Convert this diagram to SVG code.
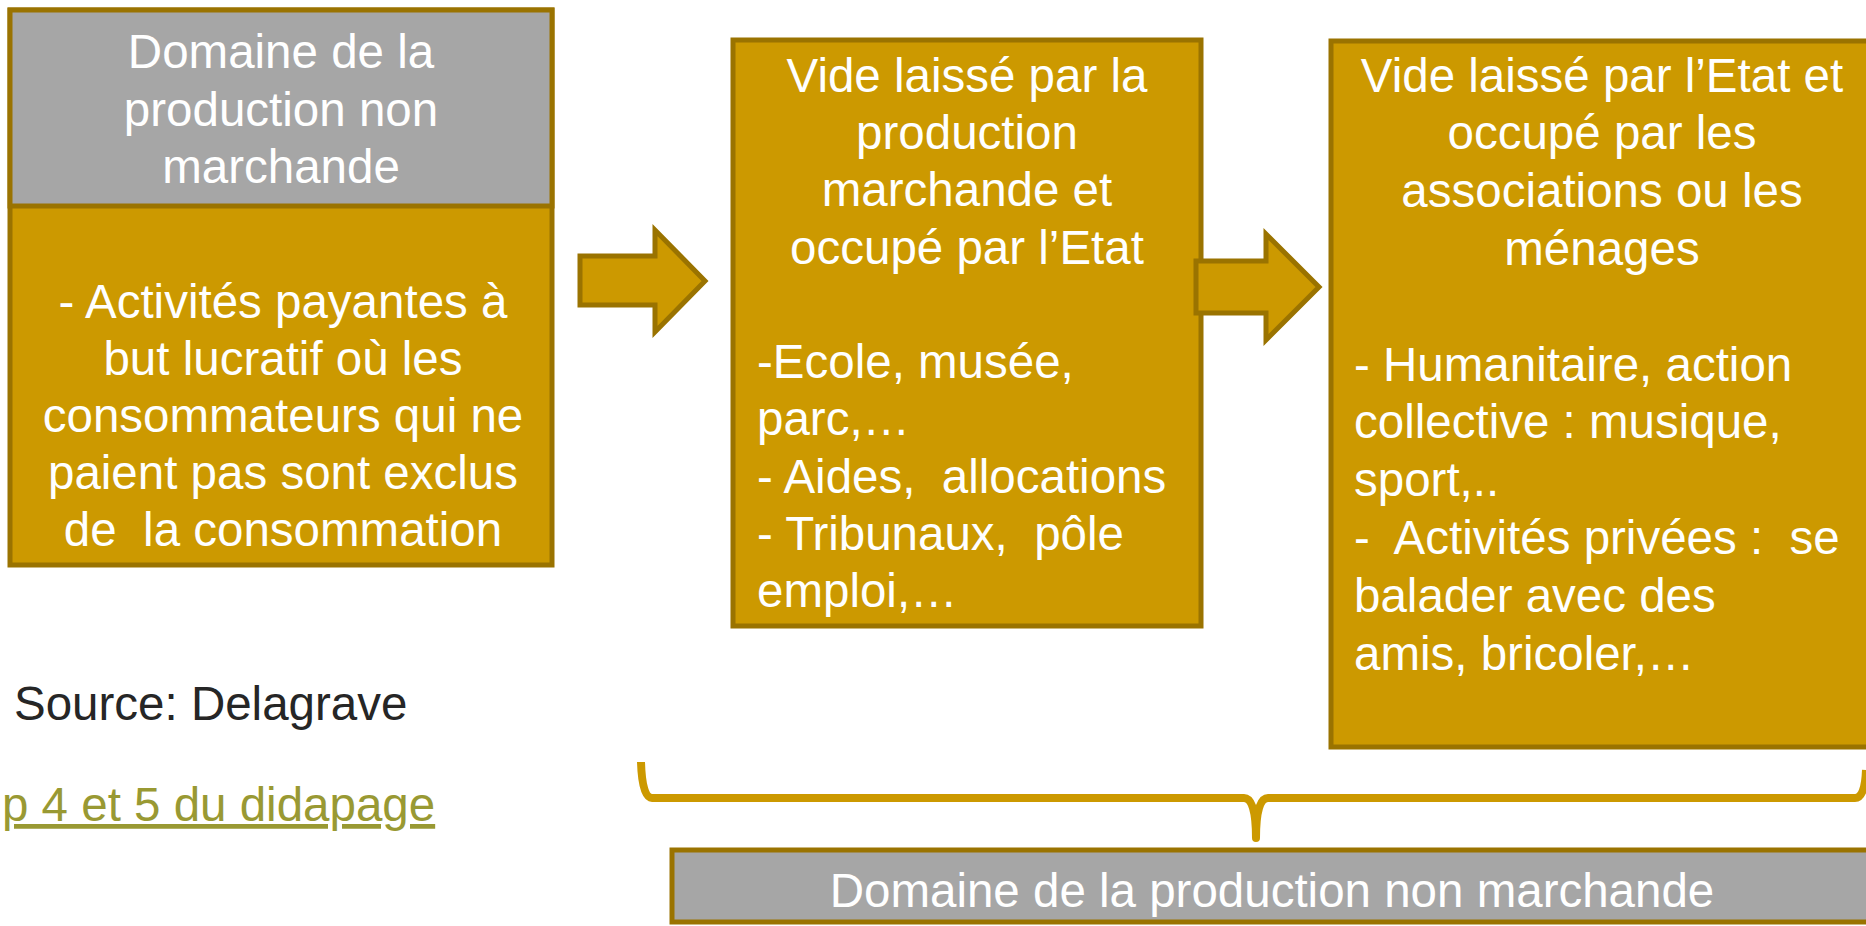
<svg xmlns="http://www.w3.org/2000/svg" width="1866" height="926" viewBox="0 0 1866 926">
<style>
.gold{fill:#cc9900;stroke:#9a7300;stroke-width:5}
.gray{fill:#a6a6a6;stroke:#9a7300;stroke-width:5}
text{font-family:"Liberation Sans",Arial,sans-serif;font-size:47.5px;white-space:pre}
.w{fill:#ffffff}
.c{text-anchor:middle}
</style>
<rect width="1866" height="926" fill="#ffffff"/>
<g id="box1">
<rect class="gold" x="10" y="10" width="542" height="555"/>
<rect class="gray" x="10" y="10" width="542" height="196"/>
<text class="w c" x="281"><tspan x="281" y="68">Domaine de la</tspan><tspan x="281" y="125.5">production non</tspan><tspan x="281" y="183">marchande</tspan></text>
<text class="w c" x="283" xml:space="preserve"><tspan x="283" y="318">- Activités payantes à</tspan><tspan x="283" y="375">but lucratif où les</tspan><tspan x="283" y="432">consommateurs qui ne</tspan><tspan x="283" y="489">paient pas sont exclus</tspan><tspan x="283" y="546">de  la consommation</tspan></text>
</g>
<g id="box2">
<rect class="gold" x="733" y="40" width="468" height="586"/>
<text class="w c"><tspan x="967" y="91.6">Vide laissé par la</tspan><tspan x="967" y="149">production</tspan><tspan x="967" y="206.4">marchande et</tspan><tspan x="967" y="263.6">occupé par l’Etat</tspan></text>
<text class="w" xml:space="preserve"><tspan x="757" y="378">-Ecole, musée,</tspan><tspan x="757" y="435.3">parc,…</tspan><tspan x="757" y="492.6">- Aides,  allocations</tspan><tspan x="757" y="549.9">- Tribunaux,  pôle</tspan><tspan x="757" y="607.2">emploi,…</tspan></text>
</g>
<g id="box3">
<rect class="gold" x="1331" y="41" width="542" height="706"/>
<text class="w c"><tspan x="1602" y="91.6">Vide laissé par l’Etat et</tspan><tspan x="1602" y="149.4">occupé par les</tspan><tspan x="1602" y="207.2">associations ou les</tspan><tspan x="1602" y="265">ménages</tspan></text>
<text class="w" xml:space="preserve"><tspan x="1354" y="380.6">- Humanitaire, action</tspan><tspan x="1354" y="438.4">collective : musique,</tspan><tspan x="1354" y="496.2">sport,..</tspan><tspan x="1354" y="554">-  Activités privées :  se</tspan><tspan x="1354" y="611.8">balader avec des</tspan><tspan x="1354" y="669.6">amis, bricoler,…</tspan></text>
</g>
<g id="box4">
<rect class="gray" x="672" y="850" width="1200" height="72"/>
<text class="w c" x="1272" y="907">Domaine de la production non marchande</text>
</g>
<g id="connectors">
<path class="gold" d="M580,256 L655,256 L655,230 L705,281 L655,332 L655,305 L580,305 Z"/>
<path class="gold" d="M1196,261 L1266,261 L1266,234 L1319,287 L1266,340 L1266,313 L1196,313 Z"/>
<path d="M641,762 Q642,798 652,798 L1244,798 Q1256,798 1256,838 Q1256,798 1268,798 L1855,798 Q1865,798 1866,770" fill="none" stroke="#cc9900" stroke-width="8" stroke-linejoin="round"/>
</g>
<g id="notes">
<text x="14" y="720" fill="#262626">Source: Delagrave</text>
<text x="2" y="821" fill="#999933" text-decoration="underline">p 4 et 5 du didapage</text>
</g>
</svg>
